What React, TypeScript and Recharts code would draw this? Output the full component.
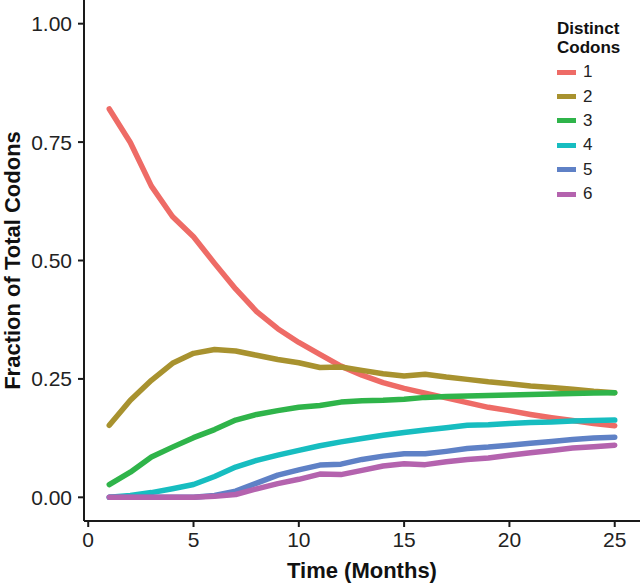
import { LineChart, Line, XAxis, YAxis, Legend } from "recharts";

const FONT = '"Liberation Sans", Arial, Helvetica, sans-serif';

const months = [
  1, 2, 3, 4, 5, 6, 7, 8, 9, 10, 11, 12, 13, 14, 15, 16, 17, 18, 19, 20, 21, 22,
  23, 24, 25,
];

// fraction of codons per number of distinct codons
const codons1 = [
  0.82, 0.749, 0.657, 0.593, 0.55, 0.494, 0.44, 0.392, 0.356, 0.327, 0.302,
  0.277, 0.258, 0.242, 0.23, 0.22, 0.21, 0.2, 0.19, 0.183, 0.175, 0.168, 0.162,
  0.156, 0.151,
];
const codons2 = [
  0.152, 0.205, 0.247, 0.283, 0.304, 0.312, 0.309, 0.3, 0.291, 0.284, 0.274,
  0.275, 0.268, 0.261, 0.256, 0.26, 0.254, 0.249, 0.244, 0.24, 0.235, 0.232,
  0.228, 0.224, 0.221,
];
const codons3 = [
  0.027, 0.053, 0.085, 0.106, 0.126, 0.143, 0.163, 0.175, 0.183, 0.19, 0.194,
  0.201, 0.204, 0.205, 0.207, 0.211, 0.213, 0.214, 0.215, 0.216, 0.217, 0.218,
  0.219, 0.22, 0.221,
];
const codons4 = [
  0, 0.004, 0.01, 0.018, 0.027, 0.044, 0.064, 0.078, 0.089, 0.099, 0.109, 0.117,
  0.124, 0.131, 0.137, 0.142, 0.147, 0.152, 0.153, 0.156, 0.158, 0.159, 0.161,
  0.162, 0.163,
];
const codons5 = [
  0, 0, 0, 0, 0, 0.004, 0.013, 0.03, 0.047, 0.058, 0.068, 0.07, 0.08, 0.087,
  0.092, 0.092, 0.097, 0.103, 0.106, 0.11, 0.114, 0.118, 0.122, 0.125, 0.127,
];
const codons6 = [
  0, 0, 0, 0, 0, 0.002, 0.006, 0.018, 0.029, 0.038, 0.049, 0.048, 0.057, 0.066,
  0.071, 0.069, 0.075, 0.08, 0.083, 0.089, 0.094, 0.099, 0.104, 0.107, 0.11,
];

const xTicks = [0, 5, 10, 15, 20, 25];
const yTicks = [0, 0.25, 0.5, 0.75, 1];

const series = [
  { key: "1", values: codons1, color: "#EE6B66" },
  { key: "2", values: codons2, color: "#A8922F" },
  { key: "3", values: codons3, color: "#2FB44A" },
  { key: "4", values: codons4, color: "#17BDC0" },
  { key: "5", values: codons5, color: "#5F81C6" },
  { key: "6", values: codons6, color: "#B463AE" },
];

const data = months.map((m, i) => {
  const row: Record<string, number> = { month: m };
  series.forEach((s) => {
    row[s.key] = s.values[i];
  });
  return row;
});

const tickStyle = { fontFamily: FONT, fontSize: 21, fill: "#222" };

function CodonLegend({ payload }: any) {
  return (
    <div style={{ fontFamily: FONT, color: "#111" }}>
      <div style={{ fontWeight: "bold", fontSize: 17, lineHeight: "19px" }}>
        Distinct
        <br />
        Codons
      </div>
      <div style={{ marginTop: 3 }}>
        {(payload || []).map((entry: any) => (
          <div
            key={entry.value}
            style={{ display: "flex", alignItems: "center", height: 24.4 }}
          >
            <div
              style={{
                width: 19,
                height: 5,
                background: entry.color,
                marginRight: 7,
              }}
            />
            <span style={{ fontSize: 17, color: "#222" }}>{entry.value}</span>
          </div>
        ))}
      </div>
    </div>
  );
}

export default function App() {
  return (
    <div style={{ position: "absolute", left: 0, top: 0, background: "#fff" }}>
      <LineChart
        width={640}
        height={583}
        data={data}
        margin={{ top: 0, right: 0, bottom: 0, left: 0 }}
      >
        <XAxis
          dataKey="month"
          type="number"
          domain={[-0.2, 26.2]}
          ticks={xTicks}
          height={62}
          tick={tickStyle}
          tickSize={6}
          tickMargin={5}
          stroke="#1a1a1a"
          strokeWidth={2}
          label={{
            value: "Time (Months)",
            position: "insideBottom",
            offset: 5,
            style: {
              fontFamily: FONT,
              fontSize: 22,
              fontWeight: "bold",
              fill: "#111",
            },
          }}
        />
        <YAxis
          type="number"
          domain={[-0.05, 1.05]}
          ticks={yTicks}
          width={84}
          tick={tickStyle}
          tickSize={6}
          tickMargin={6}
          tickFormatter={(v: number) => v.toFixed(2)}
          stroke="#1a1a1a"
          strokeWidth={2}
          allowDataOverflow
          label={{
            value: "Fraction of Total Codons",
            angle: -90,
            position: "center",
            dx: -30,
            style: {
              fontFamily: FONT,
              fontSize: 22,
              fontWeight: "bold",
              fill: "#111",
            },
          }}
        />
        <Legend
          layout="vertical"
          align="center"
          verticalAlign="middle"
          wrapperStyle={{ top: 19, left: 557, width: 83 }}
          content={<CodonLegend />}
        />
        {series.map((s) => (
          <Line
            key={s.key}
            type="linear"
            dataKey={s.key}
            name={s.key}
            stroke={s.color}
            strokeWidth={5.5}
            strokeLinecap="round"
            strokeLinejoin="round"
            dot={false}
            activeDot={false}
            isAnimationActive={false}
          />
        ))}
      </LineChart>
    </div>
  );
}
